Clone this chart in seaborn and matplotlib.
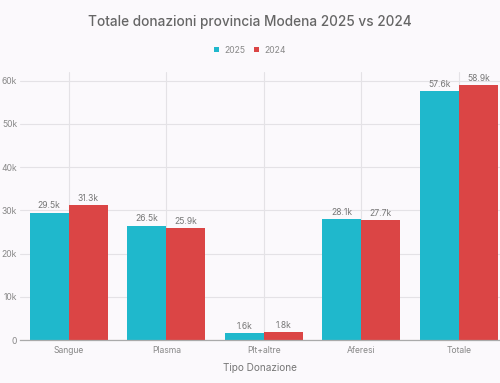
import pandas as pd
import matplotlib.pyplot as plt
import seaborn as sns

categories = ["Sangue", "Plasma", "Plt+altre", "Aferesi", "Totale"]
values_2025 = [29500, 26500, 1600, 28100, 57600]
values_2024 = [31300, 25900, 1800, 27700, 58900]
years = ["2025", "2024"]

df = pd.DataFrame({
    "Tipo Donazione": categories * 2,
    "Donazioni": values_2025 + values_2024,
    "Anno": [years[0]] * len(categories) + [years[1]] * len(categories),
})

sns.set_theme(style="white")
plt.rcParams["font.family"] = ["Inter", "DejaVu Sans"]
bg = "#fbf9fc"

fig = plt.figure(figsize=(5, 3.83), dpi=100, facecolor=bg)
ax = fig.add_axes([0.04, 0.112, 0.96, 0.7])
ax.set_facecolor(bg)

sns.barplot(data=df, x="Tipo Donazione", y="Donazioni", hue="Anno",
            palette=["#1fb8cc", "#db4545"], width=0.8, saturation=1,
            linewidth=0, ax=ax, legend=True)

for cont in ax.containers:
    ax.bar_label(cont, labels=[f"{v/1000:.1f}k" for v in cont.datavalues],
                 fontsize=6.2, color="#777777", padding=1.5)

ax.set_ylim(0, 62000)
ax.set_xlim(-0.5, 4.42)
ax.set_yticks(range(0, 60001, 10000))
ax.set_yticklabels(["0"] + [f"{k}k" for k in range(10, 61, 10)])
ax.tick_params(axis="both", labelsize=6.2, labelcolor="#888888", length=0)
ax.tick_params(axis="y", pad=2)
ax.tick_params(axis="x", pad=4)

ax.grid(True, color="#e4e2e6", linewidth=0.8)
ax.set_axisbelow(True)
for s in ["top", "right", "left"]:
    ax.spines[s].set_visible(False)
ax.spines["bottom"].set_color("#aaaaaa")
ax.spines["bottom"].set_linewidth(0.9)

ax.set_ylabel("")
ax.set_xlabel("Tipo Donazione", fontsize=7.2, color="#777777", labelpad=6)

handles, labels = ax.get_legend_handles_labels()
ax.legend_.remove()
fig.legend(handles, labels, loc="center", bbox_to_anchor=(0.5, 0.869), ncol=2,
           frameon=False, fontsize=6.2, labelcolor="#888888",
           handlelength=0.6, handleheight=0.6, handletextpad=0.6, columnspacing=1.0)

fig.text(0.5, 0.943, "Totale donazioni provincia Modena 2025 vs 2024",
         ha="center", va="center", fontsize=9.8, fontweight="medium", color="#666666")

plt.savefig("out.png", dpi=100, facecolor=bg)
plt.close()
